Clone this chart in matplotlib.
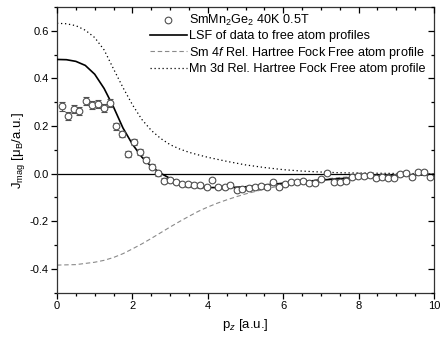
import matplotlib
matplotlib.use("Agg")
import matplotlib.pyplot as plt
from matplotlib.lines import Line2D
from matplotlib.ticker import MultipleLocator

plt.rcParams['font.family'] = ['Liberation Sans', 'DejaVu Sans']
plt.rcParams['mathtext.fontset'] = 'custom'
plt.rcParams['mathtext.rm'] = 'Liberation Sans'
plt.rcParams['mathtext.it'] = 'Liberation Sans:italic'
plt.rcParams['mathtext.bf'] = 'Liberation Sans:bold'

# Measured data (SmMn2Ge2 40K 0.5T)
data_x = [0.12, 0.28, 0.44, 0.59, 0.76, 0.92, 1.08, 1.25, 1.41, 1.56, 1.72, 1.89,
          2.05, 2.21, 2.37, 2.53, 2.69, 2.85, 3.00, 3.16, 3.32, 3.48, 3.64, 3.80,
          3.97, 4.12, 4.28, 4.45, 4.60, 4.77, 4.92, 5.08, 5.24, 5.40, 5.58, 5.73,
          5.90, 6.05, 6.21, 6.37, 6.53, 6.69, 6.85, 7.01, 7.17, 7.35, 7.51, 7.66,
          7.82, 7.98, 8.14, 8.30, 8.46, 8.63, 8.78, 8.94, 9.10, 9.26, 9.42, 9.58,
          9.74, 9.90]
data_y = [0.283, 0.243, 0.271, 0.263, 0.306, 0.287, 0.291, 0.276, 0.298, 0.199, 0.168, 0.082,
          0.134, 0.091, 0.059, 0.029, 0.001, -0.030, -0.027, -0.036, -0.043, -0.045, -0.046, -0.049,
          -0.055, -0.027, -0.055, -0.055, -0.048, -0.069, -0.064, -0.060, -0.055, -0.053, -0.057, -0.036,
          -0.057, -0.043, -0.036, -0.033, -0.031, -0.040, -0.040, -0.024, 0.002, -0.036, -0.036, -0.031,
          -0.012, -0.008, -0.010, -0.005, -0.019, -0.012, -0.016, -0.016, -0.001, 0.002, -0.015, 0.008,
          0.008, -0.012]
data_err = [0.018, 0.018, 0.018, 0.018, 0.018, 0.017, 0.017, 0.017, 0.016, 0.014, 0.013, 0.012,
            0.012, 0.011, 0.011, 0.010, 0.010, 0.010, 0.009, 0.009, 0.009, 0.009, 0.009, 0.009,
            0.008, 0.008, 0.008, 0.008, 0.008, 0.008, 0.008, 0.008, 0.008, 0.008, 0.008, 0.008,
            0.008, 0.008, 0.008, 0.008, 0.008, 0.008, 0.008, 0.008, 0.008, 0.008, 0.008, 0.008,
            0.008, 0.008, 0.008, 0.008, 0.008, 0.008, 0.008, 0.008, 0.008, 0.008, 0.008, 0.008,
            0.008, 0.008]

# LSF fit curve
lsf_x = [0, 0.25, 0.5, 0.75, 1.0, 1.25, 1.5, 1.75, 2.0, 2.25, 2.5, 2.75, 3.0, 3.25, 3.5,
         3.75, 4.0, 4.5, 5.0, 5.5, 6.0, 6.5, 7.0, 7.5, 8.0, 8.5, 9.0, 9.5, 10.0]
lsf_y = [0.480, 0.479, 0.472, 0.455, 0.418, 0.358, 0.280, 0.192, 0.124, 0.070, 0.030, 0.002,
         -0.020, -0.036, -0.047, -0.054, -0.058, -0.059, -0.055, -0.048, -0.040, -0.033, -0.027,
         -0.021, -0.016, -0.012, -0.009, -0.006, -0.004]

# Sm 4f free atom profile
sm_x = [0, 0.5, 1.0, 1.25, 1.5, 1.75, 2.0, 2.25, 2.5, 2.75, 3.0, 3.25, 3.5, 3.75, 4.0,
        4.25, 4.5, 4.75, 5.0, 5.5, 6.0, 6.5, 7.0, 7.5, 8.0, 8.5, 9.0, 9.5, 10.0]
sm_y = [-0.384, -0.382, -0.372, -0.364, -0.352, -0.336, -0.316, -0.295, -0.272, -0.248, -0.224,
        -0.201, -0.179, -0.158, -0.140, -0.124, -0.110, -0.097, -0.085, -0.065, -0.048, -0.034,
        -0.024, -0.016, -0.011, -0.007, -0.005, -0.003, -0.002]

# Mn 3d free atom profile
mn_x = [0, 0.25, 0.5, 0.75, 1.0, 1.25, 1.5, 1.75, 2.0, 2.25, 2.5, 2.75, 3.0, 3.25, 3.5,
        3.75, 4.0, 4.5, 5.0, 5.5, 6.0, 6.5, 7.0, 7.5, 8.0, 9.0, 10.0]
mn_y = [0.632, 0.630, 0.622, 0.603, 0.572, 0.520, 0.440, 0.362, 0.290, 0.228, 0.182, 0.148,
        0.122, 0.104, 0.090, 0.079, 0.069, 0.052, 0.037, 0.026, 0.017, 0.011, 0.007, 0.004,
        0.003, 0.001, 0.0]

labels = [r"SmMn$_2$Ge$_2$ 40K 0.5T",
          "LSF of data to free atom profiles",
          r"Sm 4$f$ Rel. Hartree Fock Free atom profile",
          "Mn 3d Rel. Hartree Fock Free atom profile"]

DOT = (0, (1, 2.2))
DASH = (0, (4, 2.5))

fig = plt.figure(figsize=(4.4, 3.41), dpi=100)
ax = fig.add_axes([57 / 440, 1 - 292.7 / 341, 377 / 440, 285.6 / 341])

ax.axhline(0, color='black', lw=0.9, zorder=1)
ax.plot(mn_x, mn_y, color='black', lw=0.9, linestyle=DOT, zorder=2)
ax.plot(sm_x, sm_y, color='#8a8a8a', lw=0.8, linestyle=DASH, zorder=2)
ax.plot(lsf_x, lsf_y, color='black', lw=1.2, zorder=3)
ax.errorbar(data_x, data_y, yerr=data_err, fmt='o', ms=4.8, mfc='white', mec='#505050',
            mew=0.8, ecolor='#505050', elinewidth=0.8, capsize=2, capthick=0.8, zorder=4)

ax.set_xlim(0, 10)
ax.set_ylim(-0.5, 0.7)
ax.xaxis.set_major_locator(MultipleLocator(2))
ax.xaxis.set_minor_locator(MultipleLocator(0.5))
ax.yaxis.set_minor_locator(MultipleLocator(0.1))
ax.set_yticks([-0.4, -0.2, 0.0, 0.2, 0.4, 0.6])
ax.set_yticklabels(["-0.4", "-0.2", "0.0", "0.2", "0.4", "0.6"])
ax.tick_params(which='both', direction='out', labelsize=8, width=0.9, pad=2)
ax.tick_params(which='major', length=4)
ax.tick_params(which='minor', length=2.5)
for s in ax.spines.values():
    s.set_linewidth(0.9)
    s.set_color('#333333')

# mirrored inward ticks on top and right
axt = ax.twiny()
axt.set_xlim(ax.get_xlim())
axt.xaxis.set_major_locator(MultipleLocator(2))
axt.xaxis.set_minor_locator(MultipleLocator(0.5))
axt.tick_params(which='both', direction='in', labeltop=False, width=0.9)
axt.tick_params(which='major', length=4)
axt.tick_params(which='minor', length=2.5)
axr = ax.twinx()
axr.set_ylim(ax.get_ylim())
axr.yaxis.set_major_locator(MultipleLocator(0.2))
axr.yaxis.set_minor_locator(MultipleLocator(0.1))
axr.tick_params(which='both', direction='in', labelright=False, width=0.9)
axr.tick_params(which='major', length=4)
axr.tick_params(which='minor', length=2.5)
for a in (axt, axr):
    for s in a.spines.values():
        s.set_visible(False)

ax.set_xlabel(r"p$_z$ [a.u.]", fontsize=9.5, labelpad=4)
ax.set_ylabel(r"J$_{\mathrm{mag}}$ [$\mathrm{\mu}_\mathrm{B}$/a.u.]", fontsize=9.5, labelpad=2)

handles = [Line2D([], [], marker='o', ls='none', ms=4.8, mfc='white', mec='#505050', mew=0.8),
           Line2D([], [], color='black', lw=1.2),
           Line2D([], [], color='#8a8a8a', lw=0.8, linestyle=DASH),
           Line2D([], [], color='black', lw=0.9, linestyle=DOT)]
fig.legend(handles, labels, loc='upper left', bbox_to_anchor=(150 / 440, 1 - 13 / 341),
           frameon=False, fontsize=9.1, handlelength=2.9, handletextpad=0.17,
           labelspacing=0.18, borderpad=0, borderaxespad=0)

fig.savefig("out.png", dpi=100)
